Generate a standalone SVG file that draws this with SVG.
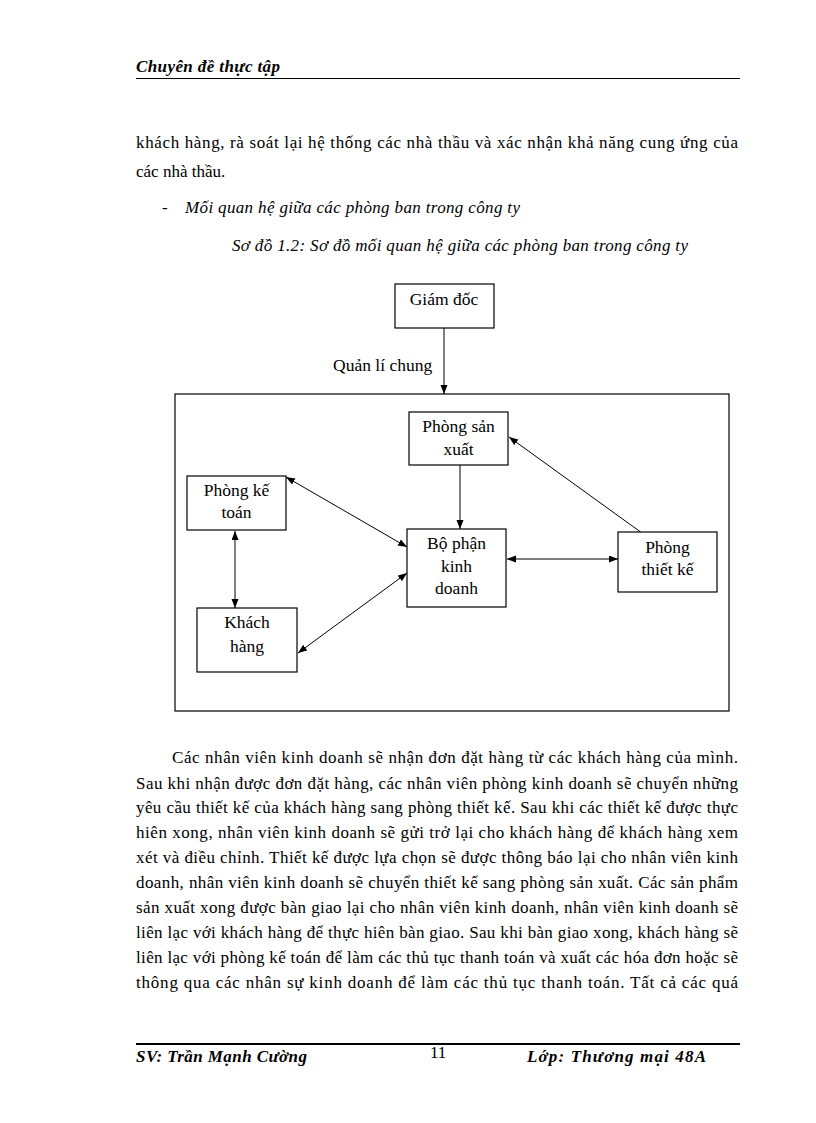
<svg xmlns="http://www.w3.org/2000/svg" width="816" height="1123" viewBox="0 0 816 1123">
<style>
text{font-family:"Liberation Serif","Times New Roman",serif;fill:#000}
.body{font-size:17px}
.bi{font-size:17px;font-weight:bold;font-style:italic}
.it{font-size:17px;font-style:italic}
.node rect{fill:#fff;stroke:#000;stroke-width:1.2}
.node text{font-size:17.5px;text-anchor:middle}
.conn line{stroke:#000;stroke-width:1}
</style>
<defs>
<marker id="ah" markerUnits="userSpaceOnUse" markerWidth="10" markerHeight="8" refX="9" refY="3.5" orient="auto-start-reverse">
<path d="M0,0 L9,3.5 L0,7 z" fill="#000"/>
</marker>
</defs>
<rect width="816" height="1123" fill="#fff"/>

<g id="header">
<text class="bi" x="136" y="72" textLength="144" lengthAdjust="spacing">Chuyên  đề thực tập</text>
<line x1="136" y1="78.5" x2="740" y2="78.5" stroke="#000" stroke-width="1"/>
</g>

<g id="intro">
<text class="body" x="136" y="148" textLength="602" lengthAdjust="spacing">khách hàng, rà soát lại hệ thống các nhà thầu và xác nhận khả năng cung ứng của</text>
<text class="body" x="136" y="177">các nhà thầu.</text>
<text class="body" x="162" y="213">-</text>
<text class="it" x="185" y="213" textLength="335" lengthAdjust="spacing">Mối quan hệ giữa các phòng ban trong công ty</text>
<text class="it" x="232" y="251" textLength="456" lengthAdjust="spacing">Sơ đồ 1.2: Sơ đồ mối quan hệ giữa các phòng ban trong công ty</text>
</g>

<g id="frame">
<rect x="175" y="394" width="554" height="317" fill="none" stroke="#000" stroke-width="1.2"/>
</g>

<g id="label-quan-li">
<text class="body" x="333" y="371" style="font-size:17.5px">Quản lí chung</text>
</g>

<g class="conn" id="connectors">
<line x1="444" y1="328" x2="444" y2="394" marker-end="url(#ah)"/>
<line x1="460" y1="465" x2="460" y2="529" marker-end="url(#ah)"/>
<line x1="642" y1="533" x2="509" y2="437" marker-end="url(#ah)"/>
<line x1="507" y1="559" x2="618" y2="559" marker-start="url(#ah)" marker-end="url(#ah)"/>
<line x1="286" y1="477" x2="407" y2="547" marker-start="url(#ah)" marker-end="url(#ah)"/>
<line x1="298" y1="653" x2="407" y2="573" marker-start="url(#ah)" marker-end="url(#ah)"/>
<line x1="235" y1="531" x2="235" y2="608" marker-start="url(#ah)" marker-end="url(#ah)"/>
</g>

<g class="node" id="giam-doc">
<rect x="395" y="284" width="99" height="44"/>
<text x="444" y="305">Giám đốc</text>
</g>
<g class="node" id="phong-san-xuat">
<rect x="409" y="412" width="99" height="53"/>
<text x="458.5" y="432">Phòng sản</text>
<text x="458.5" y="455">xuất</text>
</g>
<g class="node" id="phong-ke-toan">
<rect x="187" y="476" width="99" height="54"/>
<text x="236.5" y="496">Phòng kế</text>
<text x="236.5" y="518">toán</text>
</g>
<g class="node" id="bo-phan-kinh-doanh">
<rect x="407" y="529" width="99" height="78"/>
<text x="456.5" y="549">Bộ phận</text>
<text x="456.5" y="572">kinh</text>
<text x="456.5" y="594">doanh</text>
</g>
<g class="node" id="phong-thiet-ke">
<rect x="618" y="532" width="99" height="60"/>
<text x="667.5" y="553">Phòng</text>
<text x="667.5" y="575">thiết kế</text>
</g>
<g class="node" id="khach-hang">
<rect x="197" y="608" width="100" height="64"/>
<text x="247" y="628">Khách</text>
<text x="247" y="652">hàng</text>
</g>

<g id="paragraph">
<text class="body" x="172" y="763" textLength="566" lengthAdjust="spacing">Các nhân viên kinh doanh sẽ nhận đơn đặt hàng từ các khách hàng của mình.</text>
<text class="body" x="136" y="789" textLength="602" lengthAdjust="spacing">Sau khi nhận được đơn đặt hàng, các nhân viên phòng kinh doanh sẽ chuyển những</text>
<text class="body" x="136" y="813" textLength="602" lengthAdjust="spacing">yêu cầu thiết kế của khách hàng sang phòng thiết kế. Sau khi các thiết kế được thực</text>
<text class="body" x="136" y="838" textLength="602" lengthAdjust="spacing">hiên xong, nhân viên kinh doanh sẽ gửi trở lại cho khách hàng để khách hàng xem</text>
<text class="body" x="136" y="863" textLength="602" lengthAdjust="spacing">xét và điều chỉnh. Thiết kế được lựa chọn sẽ được thông báo lại cho nhân viên kinh</text>
<text class="body" x="136" y="888" textLength="602" lengthAdjust="spacing">doanh, nhân viên kinh doanh sẽ chuyển thiết kế sang phòng sản xuất. Các sản phẩm</text>
<text class="body" x="136" y="913" textLength="602" lengthAdjust="spacing">sản xuất xong được bàn giao lại cho nhân viên kinh doanh, nhân viên kinh doanh sẽ</text>
<text class="body" x="136" y="938" textLength="602" lengthAdjust="spacing">liên lạc với khách hàng để thực hiên bàn giao. Sau khi bàn giao xong, khách hàng sẽ</text>
<text class="body" x="136" y="963" textLength="602" lengthAdjust="spacing">liên lạc với phòng kế toán để làm các thủ tục thanh toán và xuất các hóa đơn hoặc sẽ</text>
<text class="body" x="136" y="988" textLength="602" lengthAdjust="spacing">thông qua các nhân sự kinh doanh để làm các thủ tục thanh toán. Tất cả các quá</text>
</g>

<g id="footer">
<line x1="136" y1="1044" x2="740" y2="1044" stroke="#000" stroke-width="2"/>
<text class="bi" x="136" y="1062" textLength="171" lengthAdjust="spacing">SV: Trần Mạnh Cường</text>
<text class="body" x="430" y="1058">11</text>
<text class="bi" x="527" y="1062" textLength="179" lengthAdjust="spacing">Lớp: Thương mại 48A</text>
</g>
</svg>
